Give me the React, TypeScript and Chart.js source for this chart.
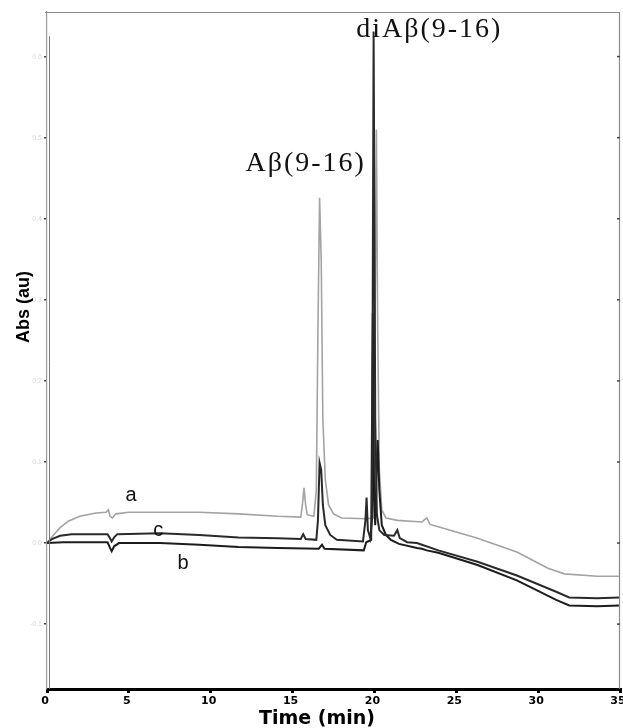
import React, { useEffect, useRef } from "react";
import { Chart, registerables } from "chart.js";

Chart.register(...registerables);

// ---- Data (time in min, absorbance in au) ----
const timeA = [0, 0.4, 0.8, 1.3, 2, 3, 3.6, 3.75, 3.85, 4.0, 4.2, 5, 7, 9.3, 11.7, 14.1, 15.5, 15.6, 15.7, 15.8, 15.9, 16.3, 16.45, 16.55, 16.65, 16.75, 16.85, 17.0, 17.2, 17.5, 18, 19.5, 19.95, 20.05, 20.12, 20.2, 20.3, 20.45, 20.7, 21.4, 22.9, 23.2, 23.4, 23.9, 26.3, 28.7, 30.6, 31.6, 33.6, 35];
const absA = [0, 0.010, 0.019, 0.027, 0.033, 0.037, 0.038, 0.041, 0.033, 0.031, 0.036, 0.038, 0.038, 0.038, 0.036, 0.033, 0.032, 0.047, 0.068, 0.046, 0.035, 0.033, 0.065, 0.263, 0.426, 0.349, 0.152, 0.078, 0.047, 0.036, 0.031, 0.030, 0.031, 0.300, 0.510, 0.263, 0.090, 0.041, 0.031, 0.028, 0.026, 0.031, 0.023, 0.020, 0.006, -0.011, -0.031, -0.038, -0.041, -0.041];

const timeB = [0, 1, 3.7, 3.85, 3.95, 4.1, 4.4, 6.9, 9.3, 11.7, 14.1, 16.6, 16.8, 16.95, 19.35, 19.5, 19.8, 19.9, 19.98, 20.05, 20.12, 20.2, 20.3, 20.45, 20.7, 21.0, 21.5, 22.6, 22.9, 23.2, 23.9, 26.3, 28.7, 31.1, 31.9, 33.6, 35];
const absB = [0, 0.001, 0.001, -0.006, -0.010, -0.004, 0, 0, -0.002, -0.005, -0.006, -0.007, -0.002, -0.007, -0.009, 0.001, 0.004, 0.284, 0.053, 0.022, 0.078, 0.127, 0.065, 0.022, 0.010, 0.004, -0.001, -0.006, -0.007, -0.009, -0.012, -0.027, -0.046, -0.070, -0.077, -0.078, -0.077];

const timeC = [0, 0.3, 0.8, 1.5, 3.7, 3.85, 3.95, 4.1, 4.3, 6.9, 9.3, 11.7, 14.1, 15.5, 15.65, 15.8, 16.45, 16.55, 16.65, 16.75, 16.85, 17.0, 17.3, 17.7, 19.3, 19.45, 19.52, 19.6, 19.75, 19.85, 19.95, 20.05, 20.15, 20.3, 20.6, 21.2, 21.4, 21.55, 22, 22.6, 22.9, 23.9, 26.3, 28.7, 31.1, 31.9, 33.6, 35];
const absC = [0, 0.005, 0.009, 0.011, 0.011, 0.006, 0.002, 0.007, 0.011, 0.012, 0.010, 0.007, 0.006, 0.005, 0.011, 0.005, 0.004, 0.028, 0.099, 0.090, 0.047, 0.022, 0.010, 0.004, 0.002, 0.028, 0.056, 0.016, 0.006, 0.028, 0.631, 0.152, 0.035, 0.016, 0.010, 0.009, 0.016, 0.006, 0.001, 0, -0.002, -0.009, -0.023, -0.040, -0.060, -0.067, -0.068, -0.067];

const xTickValues = [0, 5, 10, 15, 20, 25, 30, 35];
const yTickValues = [-0.1, 0, 0.1, 0.2, 0.3, 0.4, 0.5, 0.6];
const yMin = -0.18;
const yMax = 0.655;

// trace labels: [text, time, abs]
const traceLabels: [string, number, number][] = [
  ["a", 5.13, 0.059],
  ["c", 6.8, 0.016],
  ["b", 8.31, -0.025],
];
// peak labels: [text, time (center), abs (middle)]
const peakLabels: [string, number, number][] = [
  ["Aβ(9-16)", 15.8, 0.468],
  ["diAβ(9-16)", 23.35, 0.633],
];

const xTitle = "Time (min)";
const yTitle = "Abs (au)";

function toXY(t: number[], v: number[]) {
  return t.map((x, i) => ({ x, y: v[i] }));
}

const overlayPlugin = {
  id: "overlay",
  afterDraw(chart: any) {
    const { ctx, chartArea: ca, scales } = chart;
    const xs = scales.x;
    const ys = scales.y;
    ctx.save();
    // frame top & right
    ctx.strokeStyle = "#8a8a8a";
    ctx.lineWidth = 1.2;
    ctx.beginPath();
    ctx.moveTo(ca.left - 2, ca.top + 0.5);
    ctx.lineTo(ca.right - 0.5, ca.top + 0.5);
    ctx.lineTo(ca.right - 0.5, ca.bottom);
    ctx.stroke();
    // inner left line
    ctx.strokeStyle = "#7a7a7a";
    ctx.lineWidth = 1;
    ctx.beginPath();
    ctx.moveTo(ca.left + 2.5, ys.getPixelForValue(0.625));
    ctx.lineTo(ca.left + 2.5, ca.bottom);
    ctx.stroke();
    // right ticks
    ctx.strokeStyle = "#444";
    ctx.lineWidth = 1.5;
    ys.ticks.forEach((tk: any) => {
      const y = ys.getPixelForValue(tk.value);
      ctx.beginPath();
      ctx.moveTo(ca.right - 3, y);
      ctx.lineTo(ca.right, y);
      ctx.stroke();
    });
    // trace labels
    ctx.fillStyle = "#111";
    ctx.font = "20px 'Liberation Sans', Arial, sans-serif";
    ctx.textAlign = "center";
    ctx.textBaseline = "middle";
    traceLabels.forEach(([s, t, v]) => {
      ctx.fillText(s, xs.getPixelForValue(t), ys.getPixelForValue(v));
    });
    // peak labels
    ctx.font = "28px 'Liberation Serif', 'Times New Roman', serif";
    (ctx as any).letterSpacing = "2px";
    peakLabels.forEach(([s, t, v]) => {
      ctx.fillText(s, xs.getPixelForValue(t), ys.getPixelForValue(v));
    });
    (ctx as any).letterSpacing = "0px";
    // axis titles
    ctx.fillStyle = "#000";
    ctx.font = "bold 19px 'DejaVu Sans', sans-serif";
    ctx.fillText(xTitle, 317, 719);
    ctx.save();
    ctx.translate(24, 307);
    ctx.rotate(-Math.PI / 2);
    ctx.font = "bold 18px 'Liberation Sans', Arial, sans-serif";
    ctx.fillText(yTitle, 0, 0);
    ctx.restore();
    ctx.restore();
  },
};

export default function App() {
  const ref = useRef<HTMLCanvasElement | null>(null);
  useEffect(() => {
    document.body.style.margin = "0";
    const canvas = ref.current;
    if (!canvas) return;
    const chart = new Chart(canvas, {
      type: "line",
      data: {
        datasets: [
          { label: "a", data: toXY(timeA, absA), borderColor: "#a3a3a3", borderWidth: 1.6, pointRadius: 0, tension: 0, order: 3 },
          { label: "b", data: toXY(timeB, absB), borderColor: "#1c1c1c", borderWidth: 2, pointRadius: 0, tension: 0, order: 2 },
          { label: "c", data: toXY(timeC, absC), borderColor: "#2a2a2a", borderWidth: 2, pointRadius: 0, tension: 0, order: 1 },
        ],
      },
      options: {
        responsive: false,
        animation: false,
        layout: { padding: { top: 12, right: 3, left: 0, bottom: 0 } },
        plugins: { legend: { display: false }, tooltip: { enabled: false } },
        scales: {
          x: {
            type: "linear",
            min: 0,
            max: 35,
            afterFit: (s: any) => { s.height = 39; s.paddingLeft = 0; s.paddingRight = 0; },
            afterBuildTicks: (s: any) => { s.ticks = xTickValues.map((v) => ({ value: v })); },
            border: { display: true, color: "#000", width: 3 },
            grid: { display: true, drawOnChartArea: false, drawTicks: true, tickLength: 4, color: "#000", lineWidth: 3 },
            ticks: {
              color: "#000",
              padding: 2,
              maxRotation: 0,
              labelOffset: -2,
              font: { family: "'DejaVu Sans', sans-serif", weight: "bold", size: 11 },
              callback: (v: any) => String(v),
            },
          },
          y: {
            type: "linear",
            min: yMin,
            max: yMax,
            afterFit: (s: any) => { s.width = 47; s.paddingTop = 0; s.paddingBottom = 0; },
            afterBuildTicks: (s: any) => { s.ticks = yTickValues.map((v) => ({ value: v })); },
            border: { display: true, color: "#9a9a9a", width: 1.2 },
            grid: { display: true, drawOnChartArea: false, drawTicks: true, tickLength: 3, color: "#444", lineWidth: 1.5 },
            ticks: {
              color: "#d8d8d8",
              padding: 2,
              font: { family: "'Liberation Sans', sans-serif", size: 7 },
              callback: (v: any) => Number(v).toFixed(1),
            },
          },
        },
      },
      plugins: [overlayPlugin],
    } as any);
    return () => chart.destroy();
  }, []);
  return (
    <div style={{ width: 623, height: 728, background: "#fff" }}>
      <canvas ref={ref} width={623} height={728} />
    </div>
  );
}
